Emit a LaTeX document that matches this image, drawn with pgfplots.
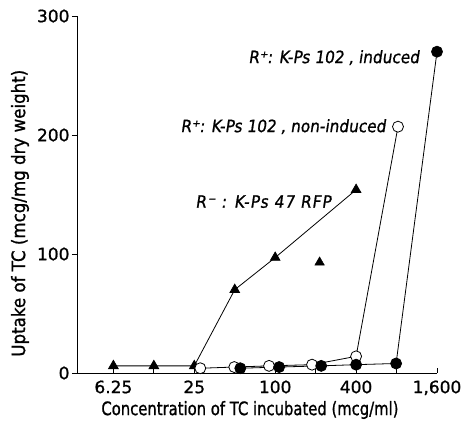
\documentclass[border=0pt]{standalone}
\usepackage{fontspec}
\setmainfont{DejaVu Sans}[FakeBold=1]
\newfontfamily\xlabfont[FakeBold=1,FakeStretch=0.8]{DejaVu Sans}
\newfontfamily\ylabfont[FakeBold=1,FakeStretch=0.9]{DejaVu Sans}
\newfontfamily\annfont[FakeStretch=0.9,FakeSlant=0.15,FakeBold=1]{DejaVu Sans}
\newfontfamily\annwide[FakeStretch=0.9,FakeSlant=0.15,FakeBold=1,LetterSpace=6]{DejaVu Sans}
\usepackage{pgfplots}
\pgfplotsset{compat=1.18}

\begin{document}
\begin{tikzpicture}
\begin{axis}[
  scale only axis, width=360pt, height=357pt,
  xmode=log, log basis x=2,
  xmin=3.35, xmax=1600, ymin=0, ymax=300,
  axis lines=left, axis line style={-, line width=0.9pt},
  xtick={6.25,12.5,25,50,100,200,400,800,1600},
  xticklabels={6.25,,25,,100,,400,,{1,600}},
  ytick={0,100,200,300},
  tick align=inside, major tick length=5pt,
  tick style={black, line width=0.8pt},
  ytick style={xshift=-5pt},
  /pgf/number format/assume math mode=true,
  tick label style={font=\fontsize{17}{17}\selectfont},
  xticklabel style={yshift=-4pt},
  yticklabel style={xshift=-4pt},
  xlabel={\xlabfont Concentration of TC incubated (mcg/ml)},
  ylabel={\ylabfont Uptake of TC (mcg/mg dry weight)},
  label style={font=\fontsize{18.5}{18.5}\selectfont},
  xlabel style={at={(axis description cs:0.058,0)}, anchor=west, yshift=-37pt},
  ylabel style={at={(axis description cs:0,0.036)}, anchor=west, yshift=57pt},
  clip=false,
]
% R-: K-Ps 47 RFP
\addplot[black, line width=0.8pt, mark=triangle*, mark size=5.5pt] coordinates {
  (6.25,6) (12.5,6) (25,6) (50,70) (100,97) (400,154)};
\addplot[black, only marks, mark=triangle*, mark size=5.5pt] coordinates {(214,93)};
% R+: K-Ps 102, non-induced
\addplot[black, line width=0.8pt, mark=*, mark options={fill=white}, mark size=5.5pt] coordinates {
  (27.7,4) (49.6,5) (90,6) (188,7) (400,14) (820,207)};
% R+: K-Ps 102, induced
\addplot[black, line width=0.8pt, mark=*, mark size=5.5pt] coordinates {
  (55,4) (107,5) (220,6) (400,7) (794,8) (1600,270)};
\node[anchor=west, inner sep=0pt, font=\annfont\fontsize{17}{17}\selectfont] at (axis cs:63,265) {R⁺: K-Ps 102 , induced};
\node[anchor=west, inner sep=0pt, font=\annfont\fontsize{17}{17}\selectfont] at (axis cs:19.7,207) {R⁺: K-Ps 102 , non-induced};
\node[anchor=west, inner sep=0pt, font=\annwide\fontsize{17}{17}\selectfont] at (axis cs:25.4,144) {R⁻ : K-Ps 47 RFP};
\end{axis}
\pgfresetboundingbox
\path (-77pt,-48pt) rectangle (384pt,373pt);
\end{tikzpicture}
\end{document}
